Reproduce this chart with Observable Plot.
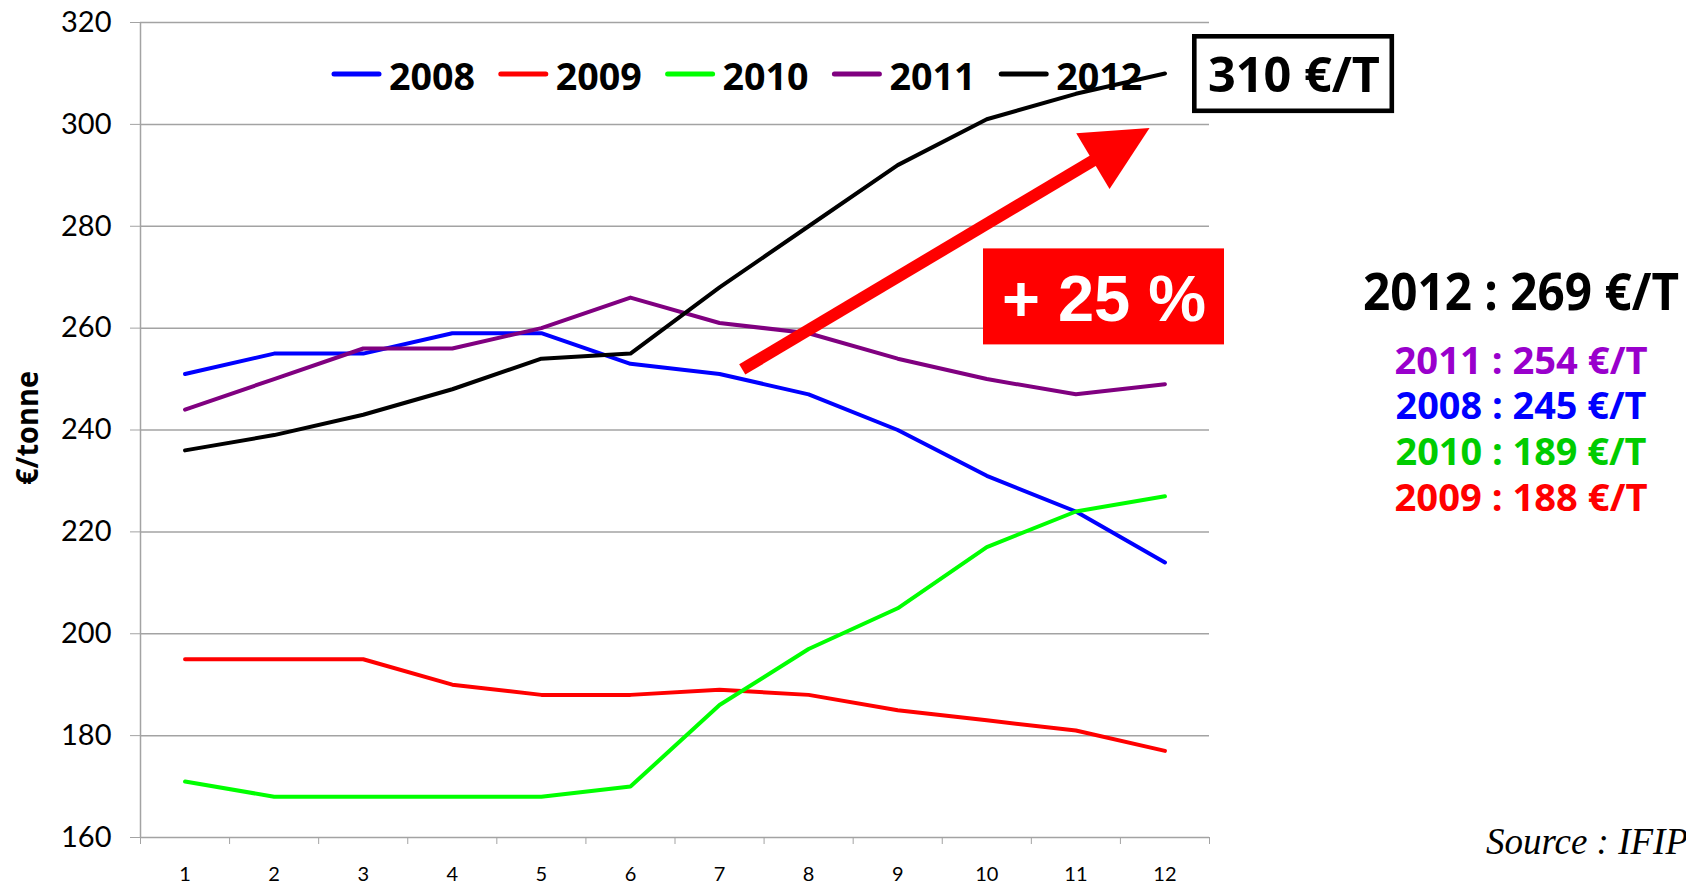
<!DOCTYPE html>
<html>
<head>
<meta charset="utf-8">
<script src="https://cdn.jsdelivr.net/npm/d3@7"></script>
<script src="https://cdn.jsdelivr.net/npm/@observablehq/plot@0.6"></script>
<style>
  html, body { margin: 0; padding: 0; background: white; overflow: hidden; }
  #wrap { position: relative; width: 1686px; height: 885px; overflow: hidden; background: white; }
  #wrap > svg { position: absolute; left: 0; top: 0; }
  #legend { z-index: 0; }
  #chart { position: absolute; left: 0; top: 0; z-index: 1; }
  #annot { z-index: 2; }
</style>
</head>
<body>
<div id="wrap">
  <svg id="legend" width="1686" height="885"></svg>
  <div id="chart"></div>
  <svg id="annot" width="1686" height="885"></svg>
</div>
<script>
// ---- data ----
const months = [1, 2, 3, 4, 5, 6, 7, 8, 9, 10, 11, 12];
const years = ["2008", "2009", "2010", "2011", "2012"];
const yearColors = ["#0000FF", "#FF0000", "#00FF00", "#800080", "#000000"];
const v2008 = [251, 255, 255, 259, 259, 253, 251, 247, 240, 231, 224, 214];
const v2009 = [195, 195, 195, 190, 188, 188, 189, 188, 185, 183, 181, 177];
const v2010 = [171, 168, 168, 168, 168, 170, 186, 197, 205, 217, 224, 227];
const v2011 = [244, 250, 256, 256, 260, 266, 261, 259, 254, 250, 247, 249];
const v2012 = [236, 239, 243, 248, 254, 255, 268, 280, 292, 301, 306, 310];
const yTicks = [160, 180, 200, 220, 240, 260, 280, 300, 320];
const monthBoundaries = [0.5, 1.5, 2.5, 3.5, 4.5, 5.5, 6.5, 7.5, 8.5, 9.5, 10.5, 11.5, 12.5];
const averageLabels = ["2012 : 269 €/T", "2011 : 254 €/T", "2008 : 245 €/T", "2010 : 189 €/T", "2009 : 188 €/T"];
const averageColors = ["#000000", "#9900CC", "#0000FF", "#00CC00", "#FF0000"];
const endLabel = "310 €/T";
const growthLabel = "+ 25 %";
const yLabel = "€/tonne";
const sourceLabel = "Source : IFIP";
// arrow annotation in data units (month, €/tonne)
const arrowShaft = [{x1: 7.255, y1: 251.9, x2: 11.32, y2: 294.2}];
const arrowHead = [{x: 11.004, y: 298.25}, {x: 11.827, y: 299.3}, {x: 11.378, y: 287.3}];

const series = [v2008, v2009, v2010, v2011, v2012];
const table = [];
years.forEach((yr, i) => months.forEach((m, j) => table.push({year: yr, month: m, value: series[i][j]})));

const grid = "#a3a3a3";
const chart = Plot.plot({
  width: 1686,
  height: 885,
  marginLeft: 140,
  marginRight: 477,
  marginTop: 22,
  marginBottom: 48,
  style: {background: "transparent", fontFamily: "Lato, sans-serif", color: "black", overflow: "visible"},
  x: {type: "linear", domain: [0.5, 12.5]},
  y: {domain: [160, 320]},
  color: {domain: years, range: yearColors},
  marks: [
    Plot.gridY(yTicks, {stroke: grid, strokeOpacity: 1, strokeWidth: 1.5}),
    Plot.ruleX([0.5], {stroke: grid, strokeWidth: 1.5}),
    Plot.axisY({ticks: yTicks, tickSize: 10, tickPadding: 19, fontSize: 29, stroke: grid, fill: "black", label: null}),
    Plot.axisX({ticks: monthBoundaries, tickSize: 7, tickFormat: () => "", stroke: grid, label: null}),
    Plot.axisX({ticks: months, tickSize: 0, tickPadding: 29, fontSize: 20, fill: "black", label: null}),
    Plot.line(table, {x: "month", y: "value", z: "year", stroke: "year", strokeWidth: 4, strokeLinejoin: "round", strokeLinecap: "round"}),
    Plot.link(arrowShaft, {x1: "x1", y1: "y1", x2: "x2", y2: "y2", stroke: "#FF0000", strokeWidth: 12, strokeLinecap: "butt"}),
    Plot.line(arrowHead, {x: "x", y: "y", fill: "#FF0000", stroke: "none"})
  ]
});
document.getElementById("chart").appendChild(chart);

const NS = "http://www.w3.org/2000/svg";
function el(parent, tag, attrs, text) {
  const e = document.createElementNS(NS, tag);
  for (const k in attrs) e.setAttribute(k, attrs[k]);
  if (text !== undefined) e.textContent = text;
  parent.appendChild(e);
  return e;
}
const boldFont = "Open Sans";

// legend (behind the lines, as in the reference)
const leg = document.getElementById("legend");
years.forEach((yr, i) => {
  const x0 = 332 + i * 166.8;
  el(leg, "line", {x1: x0 + 2, x2: x0 + 47, y1: 74, y2: 74, stroke: yearColors[i], "stroke-width": 5, "stroke-linecap": "round"});
  el(leg, "text", {x: x0 + 57, y: 90, "font-family": boldFont, "font-weight": 700, "font-size": 37, fill: "black", textLength: 86, lengthAdjust: "spacingAndGlyphs"}, yr);
});

// annotations
const an = document.getElementById("annot");
// y title
el(an, "text", {transform: "translate(38,428) rotate(-90)", "text-anchor": "middle", "font-family": boldFont, "font-weight": 700, "font-size": 30, fill: "black", textLength: 114, lengthAdjust: "spacingAndGlyphs"}, yLabel);
// 310 box
el(an, "rect", {x: 1194.3, y: 36.3, width: 197.5, height: 74.5, fill: "white", stroke: "black", "stroke-width": 4.6});
el(an, "text", {x: 1208, y: 91.7, "font-family": boldFont, "font-weight": 700, "font-size": 49, fill: "black", textLength: 172, lengthAdjust: "spacingAndGlyphs"}, endLabel);
// red +25% box
el(an, "rect", {x: 983, y: 248.4, width: 241, height: 96, fill: "#FF0000"});
el(an, "text", {x: 1104, y: 320.7, "text-anchor": "middle", "font-family": "Liberation Sans, Arial", "font-weight": 700, "font-size": 65, fill: "white"}, growthLabel);
// yearly averages
const baselines = [309.7, 374, 419, 465, 510.7];
const sizes = [52, 38, 38, 38, 38];
const lens = [316, 253, 251, 251, 253];
averageLabels.forEach((t, i) => {
  el(an, "text", {x: 1521, y: baselines[i], "text-anchor": "middle", "font-family": boldFont, "font-weight": 700, "font-size": sizes[i], fill: averageColors[i], textLength: lens[i], lengthAdjust: "spacingAndGlyphs"}, t);
});
// source
el(an, "text", {x: 1486, y: 854, "font-family": "Liberation Serif, Times New Roman, serif", "font-style": "italic", "font-size": 37, fill: "black"}, sourceLabel);
</script>
</body>
</html>
